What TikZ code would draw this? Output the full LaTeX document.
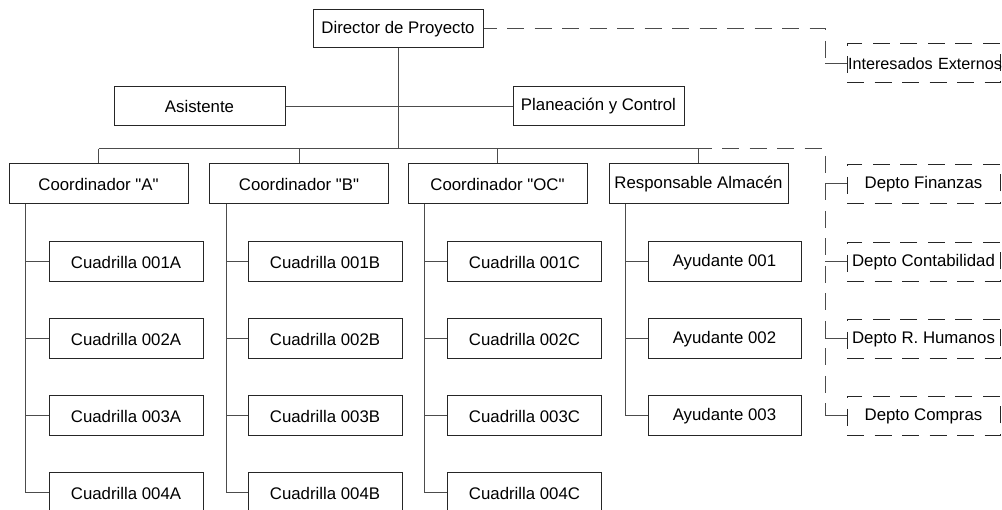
\documentclass[tikz,border=0pt]{standalone}
\usepackage{fontspec}
\setmainfont{Liberation Sans}[Ligatures=TeXOff]
\usetikzlibrary{calc}
\begin{document}
\begin{tikzpicture}[x=1pt,y=-1pt,
  every node/.style={font=\fontsize{16.8}{19}\selectfont},
  box/.style={draw=black!85, line width=1pt, inner sep=0pt, minimum height=40pt, fill=white},
  dbox/.style={box, dash pattern=on 17pt off 10.5pt},
  link/.style={draw=black!70, line width=1pt},
  dlink/.style={link, dash pattern=on 17pt off 10.5pt, dash phase=4pt}]
\useasboundingbox (0,0) rectangle (1002,510);
\clip (0,0) rectangle (1002,510);

% top level
\node[box, minimum width=170pt, minimum height=38pt] (dir) at (398,29) {Director de Proyecto};
\node[box, minimum width=171pt, minimum height=39pt] (asi) at (199.5,106.5) {Asistente};
\node[box, minimum width=171pt, minimum height=39pt] (pyc) at (598.5,106.5) {Planeación y Control};

% coordinators
\node[box, minimum width=179pt] (ca) at (98.5,184) {Coordinador "A"};
\node[box, minimum width=179pt] (cb) at (299,184) {Coordinador "B"};
\node[box, minimum width=179pt] (cc) at (497.5,184) {Coordinador "OC"};
\node[box, minimum width=179pt] (rs) at (698.5,184) {Responsable Almacén};

% crews and helpers
\foreach \i/\y in {1/262,2/339,3/416,4/493} {
  \node[box, minimum width=154pt] (a\i) at (126,\y) {Cuadrilla 00\i A};
  \node[box, minimum width=154pt] (b\i) at (325,\y) {Cuadrilla 00\i B};
  \node[box, minimum width=154pt] (c\i) at (524.5,\y) {Cuadrilla 00\i C};
}
\foreach \i/\y in {1/262,2/339,3/416}
  \node[box, minimum width=153pt] (h\i) at (724.5,\y) {Ayudante 00\i};

% external units
\node[dbox, minimum height=39pt, text width=151pt, inner xsep=1pt, align=left,
      font=\fontsize{16.2}{19}\selectfont] (ie) at (923.5,63.5) {\mbox{Interesados Externos}};
\node[dbox, minimum width=153pt, minimum height=39pt] (df) at (923.5,184) {Depto Finanzas};
\node[dbox, minimum width=153pt, minimum height=39pt] (dc) at (923.5,262) {Depto Contabilidad};
\node[dbox, minimum width=153pt, minimum height=39pt] (dr) at (923.5,339) {Depto R. Humanos};
\node[dbox, minimum width=153pt, minimum height=39pt] (dp) at (923.5,416) {Depto Compras};

% main trunk and bus
\coordinate (bus) at (399,149);
\draw[link] (dir.south) -- (dir.south |- bus);
\draw[link] (asi.east) -- (pyc.west);
\draw[link] (ca.north |- bus) -- (rs.north |- bus);
\foreach \n in {ca,cb,cc,rs}
  \draw[link] (\n.north |- bus) -- (\n.north);

% branches below each coordinator
\foreach \n/\m in {ca/a,cb/b,cc/c} {
  \coordinate (v\n) at ($(\n.south west)+(17,0)$);
  \draw[link] (v\n) |- (\m4.west);
  \foreach \i in {1,2,3}
    \draw[link] (v\n |- \m\i.west) -- (\m\i.west);
}
\coordinate (vrs) at ($(rs.south west)+(17,0)$);
\draw[link] (vrs) |- (h3.west);
\foreach \i in {1,2}
  \draw[link] (vrs |- h\i.west) -- (h\i.west);

% dashed links to external units
\coordinate (tx) at (825,29);
\draw[dlink] (dir.east) -| (tx |- ie.west);
\draw[link] (tx |- ie.west) -- (ie.west);
\coordinate (dx) at (825,149);
\draw[dlink] (rs.north |- dx) -- (dx) -- (dx |- dp.west);
\draw[link] (dx |- dp.west) -- (dp.west);
\foreach \n in {df,dc,dr}
  \draw[link] (dx |- \n.west) -- (\n.west);
\end{tikzpicture}
\end{document}
